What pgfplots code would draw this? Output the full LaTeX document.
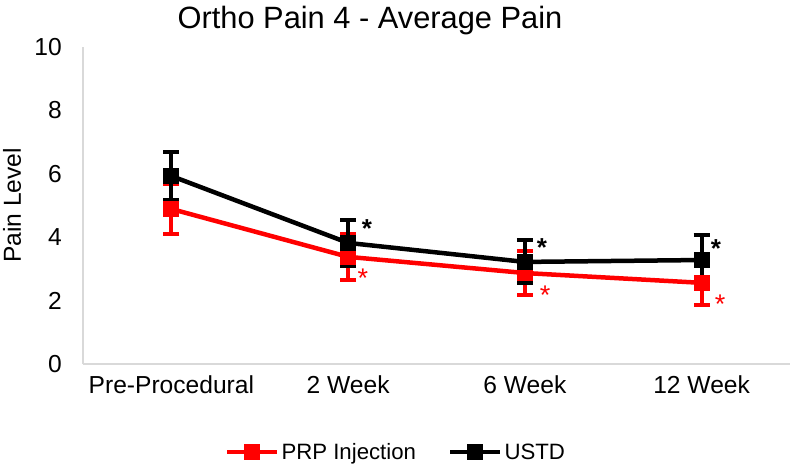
\documentclass[border=0pt]{standalone}
\usepackage{pgfplots}
\pgfplotsset{compat=1.18}
\usepackage{fontspec}
\setmainfont{Liberation Sans}
\definecolor{axgray}{RGB}{217,217,217}
\begin{document}
\begin{tikzpicture}
\path[use as bounding box] (0,0) rectangle (791pt,466pt);
\begin{axis}[
  at={(83pt,102pt)}, anchor=south west,
  scale only axis, width=707pt, height=317pt,
  xmin=-0.5, xmax=3.5, ymin=0, ymax=10,
  xtick={0,1,2,3},
  xticklabels={Pre-Procedural,2 Week,6 Week,12 Week},
  ytick={0,2,4,6,8,10},
  major tick length=0pt,
  axis x line*=bottom, axis y line*=left,
  axis line style={axgray, line width=1.3pt},
  separate axis lines,
  x axis line style={-}, y axis line style={-},
  /pgf/number format/assume math mode=true,
  ticklabel style={font=\fontsize{24.6}{29}\selectfont, text=black},
  yticklabel style={anchor=east, inner sep=0pt, xshift=-21pt},
  xticklabel style={anchor=north, inner sep=0pt, yshift=-21.5pt, text height=0.75em, text depth=0.2em},
  title={Ortho Pain 4 - Average Pain},
  title style={font=\fontsize{30.8}{36}\selectfont, at={(axis description cs:0.4059,1)}, anchor=base, yshift=12pt, inner sep=0pt},
  ylabel={Pain Level},
  ylabel style={font=\fontsize{24.6}{29}\selectfont, at={(axis description cs:-0.1004,0.5)}, anchor=center, inner sep=0pt},
  legend style={draw=none, at={(axis description cs:0.4427,-0.2776)}, anchor=center, legend columns=-1, font=\fontsize{22.2}{26}\selectfont, /tikz/every even column/.append style={column sep=30pt}, inner sep=0pt},
  legend image code/.code={\draw[#1, mark repeat=2, mark phase=2] plot coordinates {(0pt,0pt) (25pt,0pt) (50pt,0pt)};},
  clip=false,
]
\addplot[red, line width=4.5pt, mark=square*, mark size=7.5pt, mark options={solid, line width=0pt},
  error bars/.cd, y dir=both, y explicit,
  error bar style={line width=4pt, red},
  error mark options={rotate=90, line width=4pt, mark size=8pt, red}]
  coordinates {
  (0,4.89) +- (0,0.78)
  (1,3.38) +- (0,0.72)
  (2,2.87) +- (0,0.69)
  (3,2.56) +- (0,0.69)
};
\addlegendentry{PRP Injection}
\addplot[black, line width=4.5pt, mark=square*, mark size=7.5pt, mark options={solid, line width=0pt},
  error bars/.cd, y dir=both, y explicit,
  error bar style={line width=4pt, black},
  error mark options={rotate=90, line width=4pt, mark size=8pt, black}]
  coordinates {
  (0,5.93) +- (0,0.76)
  (1,3.82) +- (0,0.72)
  (2,3.22) +- (0,0.68)
  (3,3.28) +- (0,0.79)
};
\addlegendentry{USTD}
\addplot[draw=none, mark=none, forget plot, nodes near coords={\textbf{*}},
  every node near coord/.append style={anchor=center, inner sep=0pt, text=black, font=\fontsize{26}{30}\selectfont}]
  coordinates {(1.107,4.27) (2.097,3.67) (3.081,3.64)};
\addplot[draw=none, mark=none, forget plot, nodes near coords={*},
  every node near coord/.append style={anchor=center, inner sep=0pt, text=red, font=\fontsize{27}{30}\selectfont}]
  coordinates {(1.084,2.72) (2.114,2.16) (3.104,1.90)};
\end{axis}
\end{tikzpicture}
\end{document}
